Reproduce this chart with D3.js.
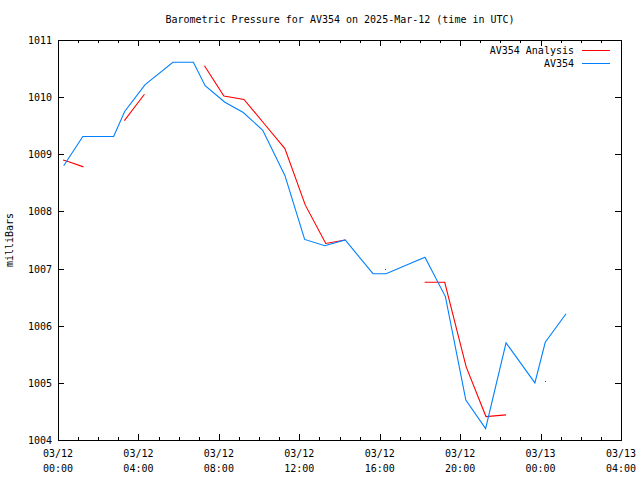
<!DOCTYPE html>
<html>
<head>
<meta charset="utf-8">
<script src="https://cdn.jsdelivr.net/npm/d3@7"></script>
<style>
body{margin:0;background:#fff;}
svg{display:block;}
text{font-family:"DejaVu Sans Mono","Liberation Mono",monospace;font-size:10px;fill:#000;}
</style>
</head>
<body>
<svg id="chart" width="640" height="480"></svg>
<script>
const titleText = "Barometric Pressure for AV354 on 2025-Mar-12 (time in UTC)";
const yLabel = "milliBars";
const seriesNames = ["AV354 Analysis", "AV354"];

// AV354 observations
const obsTimes = ["2025-03-12T00:17","2025-03-12T01:14","2025-03-12T02:46","2025-03-12T03:19","2025-03-12T04:20",
  "2025-03-12T05:43","2025-03-12T06:44","2025-03-12T07:19","2025-03-12T08:18","2025-03-12T09:13",
  "2025-03-12T10:11","2025-03-12T11:17","2025-03-12T12:16","2025-03-12T13:16","2025-03-12T14:17",
  "2025-03-12T15:40","2025-03-12T16:19","2025-03-12T18:15","2025-03-12T19:16","2025-03-12T20:17",
  "2025-03-12T21:16","2025-03-12T22:17","2025-03-12T23:43","2025-03-13T00:14","2025-03-13T01:16"];
const obsValues = [1008.80,1009.31,1009.31,1009.75,1010.22,
  1010.61,1010.61,1010.20,1009.91,1009.73,
  1009.42,1008.63,1007.51,1007.40,1007.50,
  1006.91,1006.91,1007.20,1006.51,1004.70,
  1004.20,1005.70,1005.00,1005.71,1006.21];

// AV354 Analysis (null = gap)
const anaTimes = ["2025-03-12T00:15","2025-03-12T00:32","2025-03-12T01:16",null,
  "2025-03-12T03:18","2025-03-12T04:18",null,
  "2025-03-12T07:17","2025-03-12T08:15","2025-03-12T09:15","2025-03-12T10:16","2025-03-12T11:17",
  "2025-03-12T12:18","2025-03-12T13:19","2025-03-12T14:17",null,
  "2025-03-12T16:16",null,
  "2025-03-12T18:14","2025-03-12T19:14","2025-03-12T20:18","2025-03-12T21:17","2025-03-12T22:17",null,
  "2025-03-13T00:14"];
const anaValues = [1008.90,1008.87,1008.78,null,
  1009.59,1010.05,null,
  1010.55,1010.02,1009.96,1009.53,1009.10,
  1008.11,1007.44,1007.50,null,
  1007.00,null,
  1006.76,1006.76,1005.28,1004.41,1004.44,null,
  1005.03];

const xDomain = ["2025-03-12T00:00","2025-03-13T04:00"];
const yDomain = [1004, 1011];
const yTicks = [1004,1005,1006,1007,1008,1009,1010,1011];

const parse = s => s == null ? null : new Date(s + ":00Z");
const L = 58, R = 621, T = 40, B = 440;
const svg = d3.select("#chart");
const x = d3.scaleUtc().domain(xDomain.map(parse)).range([L, R]);
const y = d3.scaleLinear().domain(yDomain).range([B, T]);

const red = "#ff0000", blue = "#0080ff";

// title
svg.append("text").attr("x", 340).attr("y", 23).attr("text-anchor", "middle").text(titleText);
// y label
svg.append("text").attr("transform", "translate(13,240) rotate(-90)").attr("text-anchor", "middle").text(yLabel);

// axes
const fmtD = d3.utcFormat("%m/%d"), fmtT = d3.utcFormat("%H:%M");
const majorX = d3.utcHour.every(4).range(x.domain()[0], new Date(x.domain()[1].getTime() + 1));
const minorX = d3.utcHour.every(1).range(x.domain()[0], new Date(x.domain()[1].getTime() + 1));

const bottom = svg.append("g").attr("transform", `translate(0,${B})`)
  .call(d3.axisBottom(x).tickValues(minorX).tickSize(0).tickFormat(""));
bottom.select(".domain").remove();
const axG = svg.append("g").attr("shape-rendering", "crispEdges").attr("stroke", "#000").attr("stroke-width", 1);
minorX.forEach(t => {
  const isMajor = majorX.some(m => m.getTime() === t.getTime());
  const len = isMajor ? 6 : 3;
  const px = Math.round(x(t)) + 0.5;
  axG.append("line").attr("x1", px).attr("x2", px).attr("y1", B).attr("y2", B - len);
  axG.append("line").attr("x1", px).attr("x2", px).attr("y1", T).attr("y2", T + len);
});
yTicks.forEach(v => {
  const py = Math.round(y(v)) + 0.5;
  axG.append("line").attr("x1", L).attr("x2", L + 6).attr("y1", py).attr("y2", py);
  axG.append("line").attr("x1", R).attr("x2", R - 6).attr("y1", py).attr("y2", py);
});
axG.append("rect").attr("x", L + 0.5).attr("y", T + 0.5).attr("width", R - L).attr("height", B - T).attr("fill", "none");

// x tick labels
majorX.forEach(t => {
  const g = svg.append("g");
  g.append("text").attr("x", x(t)).attr("y", B + 17).attr("text-anchor", "middle").text(fmtD(t));
  g.append("text").attr("x", x(t)).attr("y", B + 32).attr("text-anchor", "middle").text(fmtT(t));
});
// y tick labels
yTicks.forEach(v => {
  svg.append("text").attr("x", L - 6).attr("y", y(v) + 4).attr("text-anchor", "end").text(v);
});

// data
const obs = obsTimes.map((t, i) => ({t: parse(t), v: obsValues[i]}));
const ana = anaTimes.map((t, i) => ({t: parse(t), v: anaValues[i]}));
const line = d3.line().defined(d => d.t != null && d.v != null).x(d => x(d.t)).y(d => y(d.v));

svg.append("path").datum(ana).attr("d", line).attr("fill", "none").attr("stroke", red).attr("stroke-width", 1.1);
// isolated analysis points
ana.forEach((d, i) => {
  if (d.t == null) return;
  const prev = ana[i - 1], next = ana[i + 1];
  if ((!prev || prev.t == null) && (!next || next.t == null)) {
    svg.append("rect").attr("x", Math.round(x(d.t))).attr("y", Math.round(y(d.v))).attr("width", 1).attr("height", 1)
      .attr("fill", red).attr("shape-rendering", "crispEdges");
  }
});
svg.append("path").datum(obs).attr("d", line).attr("fill", "none").attr("stroke", blue).attr("stroke-width", 1.1);

// legend
const legend = [{name: seriesNames[0], c: red, y: 50}, {name: seriesNames[1], c: blue, y: 63}];
legend.forEach(l => {
  svg.append("text").attr("x", 574).attr("y", l.y + 4).attr("text-anchor", "end").text(l.name);
  svg.append("line").attr("x1", 582).attr("x2", 610).attr("y1", l.y + 0.5).attr("y2", l.y + 0.5)
    .attr("stroke", l.c).attr("stroke-width", 1).attr("shape-rendering", "crispEdges");
});
</script>
</body>
</html>
